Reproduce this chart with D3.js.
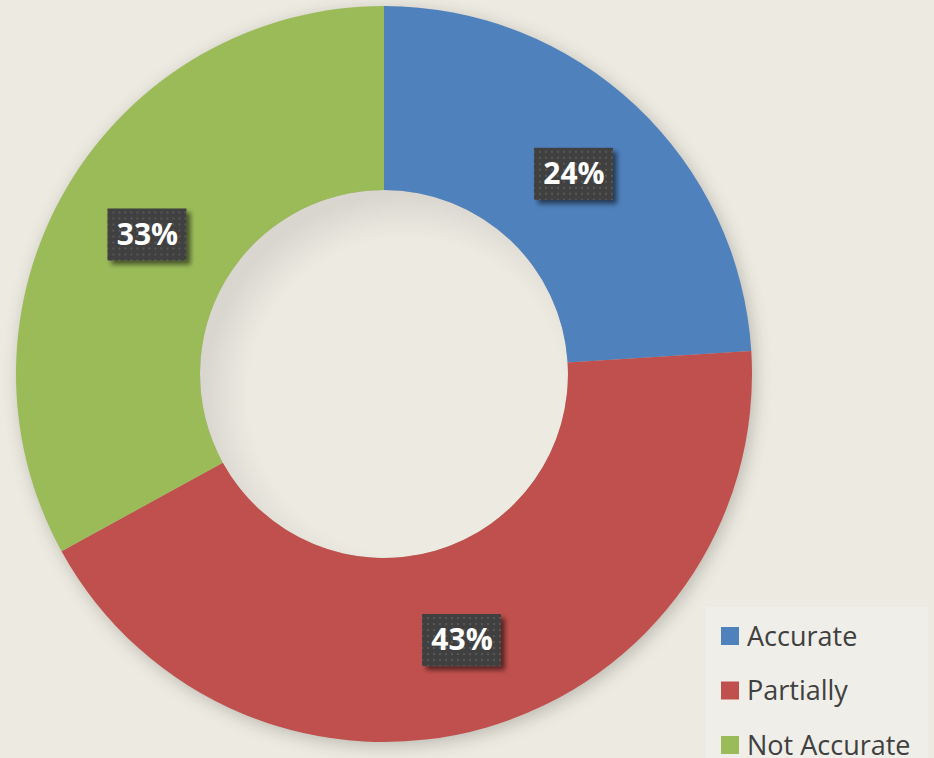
<!DOCTYPE html>
<html>
<head>
<meta charset="utf-8">
<script src="https://cdn.jsdelivr.net/npm/d3@7"></script>
<style>
  body { margin: 0; background: #EDEBE1; }
  svg { display: block; }
</style>
</head>
<body>
<script>
const categories = ['Accurate', 'Partially', 'Not Accurate'];
const values = [24, 43, 33];
const colors = ['#4F81BD', '#C0504D', '#9BBB59'];

const width = 934;
const height = 758;
const cx = 384;
const cy = 374;
const outerR = 368;
const innerR = 184;

const svg = d3.select('body').append('svg')
  .attr('width', width)
  .attr('height', height);

const defs = svg.append('defs');

// soft shadow under the ring
const sh = defs.append('filter').attr('id', 'ringShadow')
  .attr('x', '-10%').attr('y', '-10%').attr('width', '120%').attr('height', '120%');
sh.append('feGaussianBlur').attr('in', 'SourceAlpha').attr('stdDeviation', 9);
sh.append('feOffset').attr('dx', 3).attr('dy', 4).attr('result', 'b');
sh.append('feComponentTransfer').append('feFuncA').attr('type', 'linear').attr('slope', 0.22);

// label box shadow
const lsh = defs.append('filter').attr('id', 'boxShadow')
  .attr('x', '-20%').attr('y', '-20%').attr('width', '150%').attr('height', '160%');
lsh.append('feGaussianBlur').attr('in', 'SourceAlpha').attr('stdDeviation', 2.5);
lsh.append('feOffset').attr('dx', 4).attr('dy', 4).attr('result', 'off');
lsh.append('feComponentTransfer').attr('in', 'off').attr('result', 'sh')
  .append('feFuncA').attr('type', 'linear').attr('slope', 0.55);
const mrg = lsh.append('feMerge');
mrg.append('feMergeNode').attr('in', 'sh');
mrg.append('feMergeNode').attr('in', 'SourceGraphic');

// dotted texture on label boxes
const pat = defs.append('pattern').attr('id', 'dots')
  .attr('width', 6).attr('height', 6).attr('patternUnits', 'userSpaceOnUse');
pat.append('rect').attr('width', 6).attr('height', 6).attr('fill', '#3F3F3F');
pat.append('rect').attr('x', 2).attr('y', 2).attr('width', 2).attr('height', 2).attr('fill', '#585858');

// inner hole shading
const hole = defs.append('radialGradient').attr('id', 'holeGrad')
  .attr('cx', '56%').attr('cy', '56%').attr('r', '55%');
hole.append('stop').attr('offset', '0.78').attr('stop-color', '#EDEBE1');
hole.append('stop').attr('offset', '1').attr('stop-color', '#D8D6CF');

const pie = d3.pie().sort(null).value(d => d);
const arcs = pie(values);
const arc = d3.arc().innerRadius(innerR).outerRadius(outerR);
const labelArc = d3.arc().innerRadius(innerR).outerRadius(outerR);

const g = svg.append('g').attr('transform', `translate(${cx},${cy})`);

// shadow layer
g.append('circle').attr('r', outerR).attr('fill', '#000').attr('filter', 'url(#ringShadow)');
g.append('circle').attr('r', innerR).attr('fill', 'url(#holeGrad)');

g.selectAll('path.slice')
  .data(arcs)
  .enter()
  .append('path')
  .attr('class', 'slice')
  .attr('d', arc)
  .attr('fill', (d, i) => colors[i]);

const labels = g.selectAll('g.lbl')
  .data(arcs)
  .enter()
  .append('g')
  .attr('class', 'lbl')
  .attr('transform', d => `translate(${labelArc.centroid(d)})`);

labels.append('rect')
  .attr('x', -39).attr('y', -25)
  .attr('width', 79).attr('height', 52)
  .attr('fill', 'url(#dots)')
  .attr('filter', 'url(#boxShadow)');

labels.append('text')
  .attr('text-anchor', 'middle')
  .attr('x', 1)
  .attr('dy', '0.37em')
  .attr('font-family', '"Open Sans", sans-serif')
  .attr('font-weight', 'bold')
  .attr('font-size', 30)
  .attr('fill', '#fff')
  .text(d => d.data + '%');

// legend
const legend = svg.append('g');
legend.append('rect')
  .attr('x', 706).attr('y', 607)
  .attr('width', 222).attr('height', 160)
  .attr('fill', '#EFEEE8');

const items = legend.selectAll('g.item')
  .data(categories)
  .enter()
  .append('g')
  .attr('class', 'item')
  .attr('transform', (d, i) => `translate(721,${636 + i * 54.5})`);

items.append('rect')
  .attr('x', 0).attr('y', -9)
  .attr('width', 18).attr('height', 18)
  .attr('fill', (d, i) => colors[i]);

items.append('text')
  .attr('x', 26)
  .attr('dy', '0.36em')
  .attr('font-family', '"Open Sans", sans-serif')
  .attr('font-size', 27)
  .attr('fill', '#404040')
  .text(d => d);
</script>
</body>
</html>
